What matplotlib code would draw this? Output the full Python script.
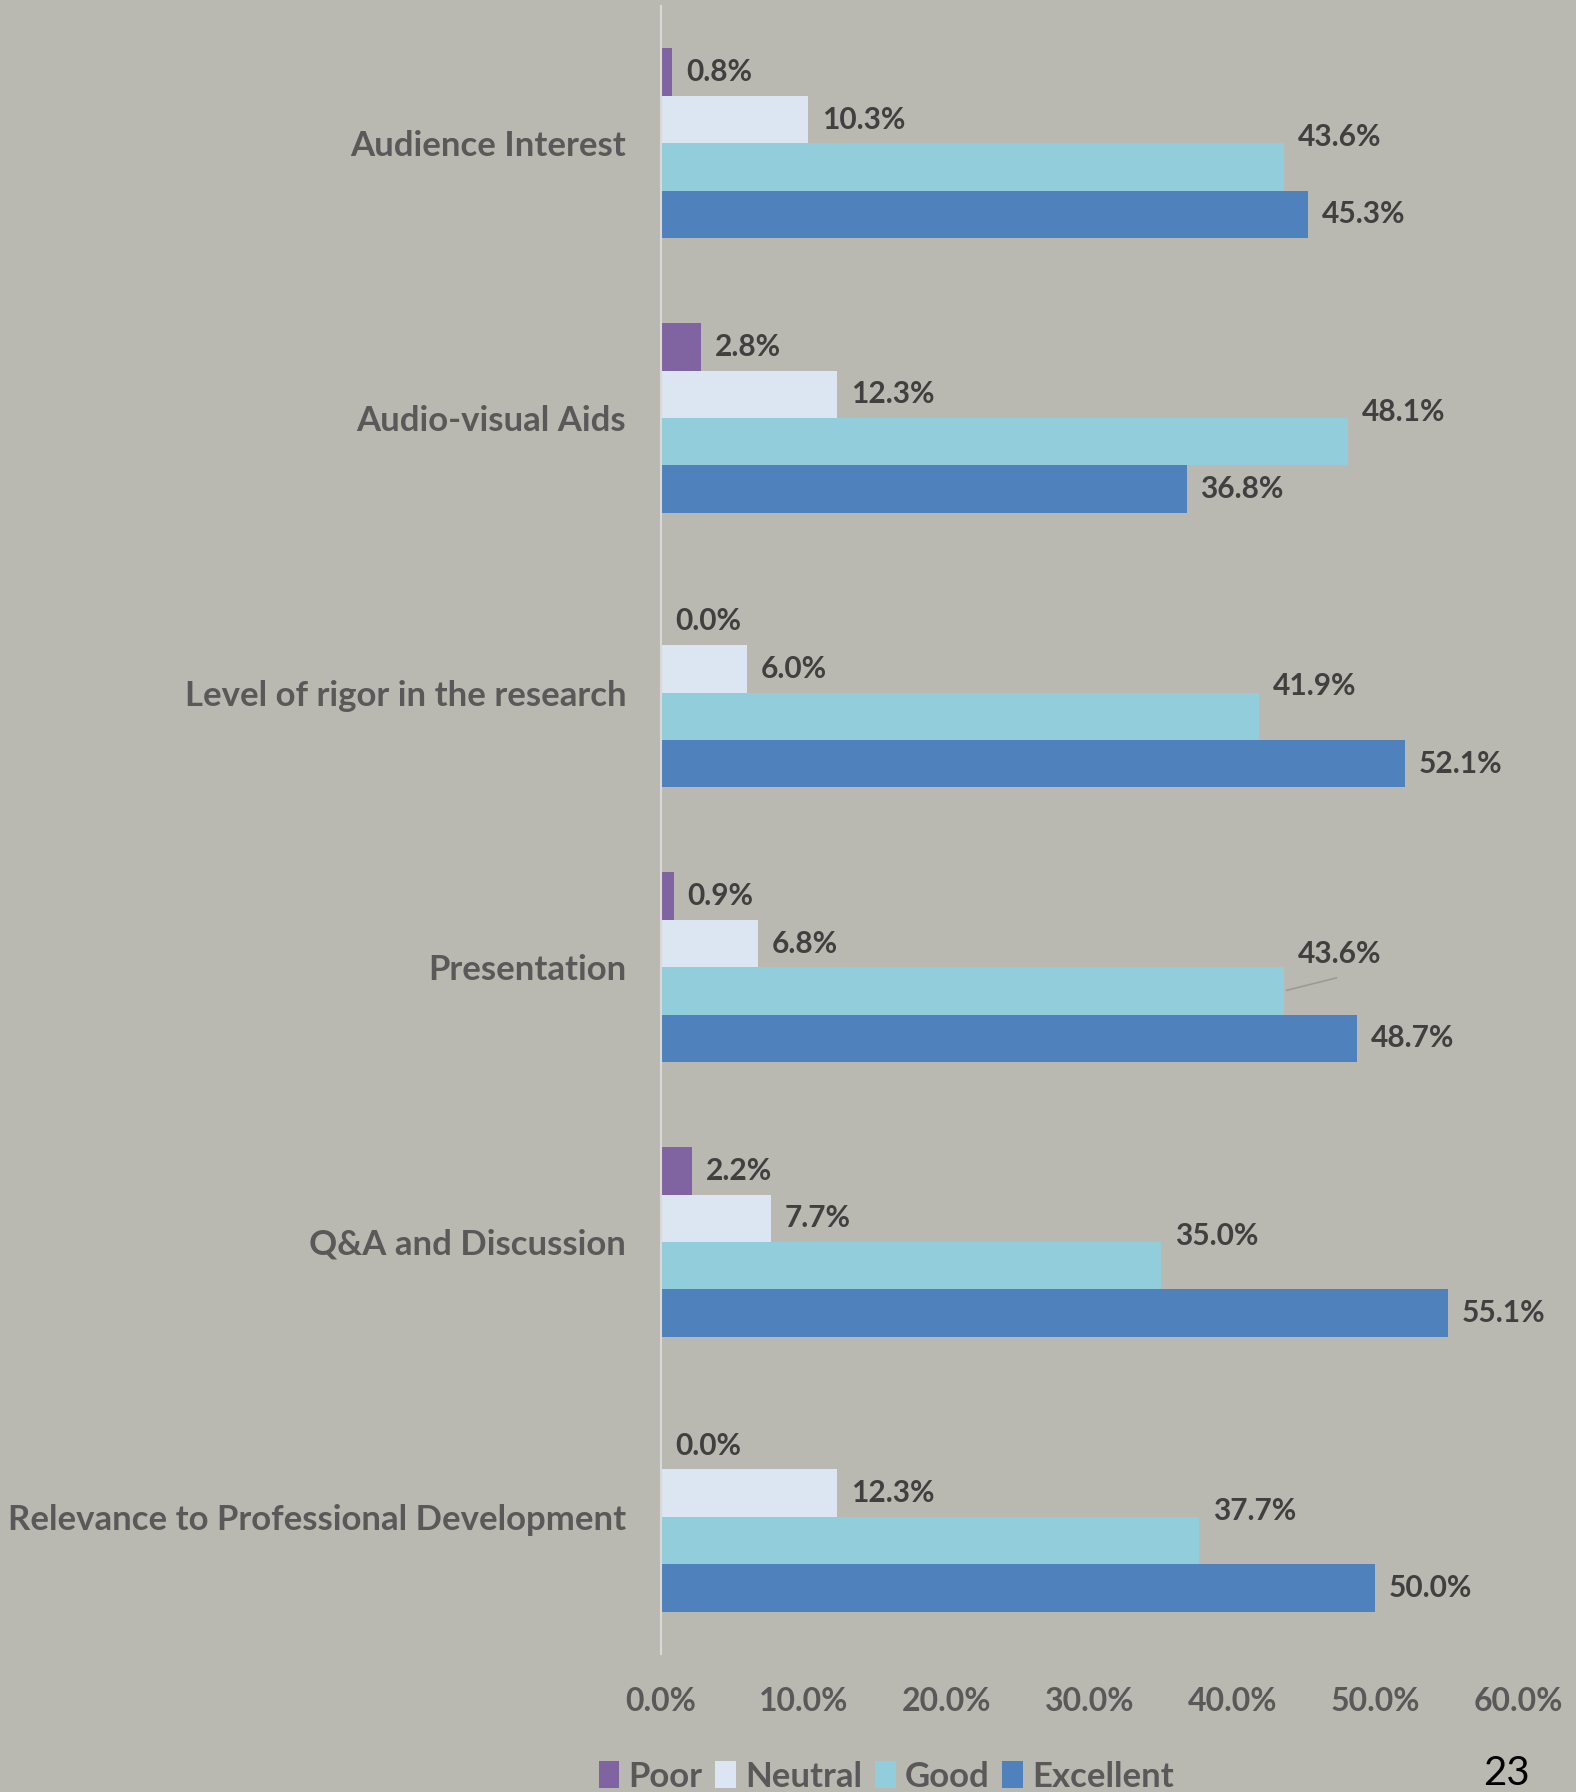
import numpy as np
import matplotlib.pyplot as plt
from matplotlib.patches import Patch

# survey ratings per session aspect (percent of responses)
categories = ['Audience Interest', 'Audio-visual Aids', 'Level of rigor in the research',
              'Presentation', 'Q&A and Discussion', 'Relevance to Professional Development']
poor = [0.8, 2.8, 0.0, 0.9, 2.2, 0.0]
neutral = [10.3, 12.3, 6.0, 6.8, 7.7, 12.3]
good = [43.6, 48.1, 41.9, 43.6, 35.0, 37.7]
excellent = [45.3, 36.8, 52.1, 48.7, 55.1, 50.0]
series_names = ['Poor', 'Neutral', 'Good', 'Excellent']
xticks = [0, 10, 20, 30, 40, 50, 60]

colors = ['#8064A2', '#DCE6F2', '#92CDDC', '#4F81BD']
bg = '#BAB9B1'
lbl_col = '#404040'
cat_col = '#595959'
font = 'Lato'

fig = plt.figure(figsize=(15.76, 17.92), dpi=100, facecolor=bg)
ax = fig.add_axes([0.4194, 0.077, 0.5438, 0.9197], facecolor=bg)

h = 0.1727
centers = np.arange(len(categories)) + 0.5
data = [poor, neutral, good, excellent]
for k, vals in enumerate(data):
    ypos = centers + (k - 1.5) * h
    ax.barh(ypos, vals, height=h, color=colors[k], edgecolor='none')
    for i, v in enumerate(vals):
        dy = 0
        if series_names[k] == 'Good':
            dy = 21.5
            if categories[i] == 'Presentation':
                dy = 27
        ax.annotate(f'{v:.1f}%', xy=(v, ypos[i]), xytext=(10, dy),
                    textcoords='offset points', ha='left', va='center',
                    fontsize=21.5, fontweight='bold', color=lbl_col, family=font)
        if series_names[k] == 'Good' and categories[i] == 'Presentation':
            ax.annotate('', xy=(v, ypos[i]), xytext=(40, 10),
                        textcoords='offset points',
                        arrowprops=dict(arrowstyle='-', color='#9A9A9A', lw=1.2))

ax.set_ylim(len(categories), 0)
ax.set_xlim(0, 60)
ax.set_yticks(centers)
ax.set_yticklabels(categories, fontsize=25, fontweight='bold', color=cat_col, family=font)
ax.set_xticks(xticks)
ax.set_xticklabels([f'{t:.1f}%' for t in xticks], fontsize=23, fontweight='bold',
                   color=cat_col, family=font)
ax.tick_params(axis='both', length=0)
ax.tick_params(axis='y', pad=25)
ax.tick_params(axis='x', pad=24)
for s in ['top', 'right', 'bottom']:
    ax.spines[s].set_visible(False)
ax.spines['left'].set_color('#D9D9D9')
ax.spines['left'].set_linewidth(1.5)

handles = [Patch(facecolor=c, edgecolor='none') for c in colors]
fig.legend(handles, series_names, loc='center left', bbox_to_anchor=(0.36, 0.0085),
           ncol=4, frameon=False, handlelength=0.6, handleheight=0.8, handletextpad=0.25,
           columnspacing=0.38, prop={'family': font, 'weight': 'bold', 'size': 25},
           labelcolor=cat_col)

fig.text(0.9556, 0.0105, '23', ha='center', va='center', fontsize=29, color='black', family=font)

fig.savefig('out.png', dpi=100, facecolor=bg)
